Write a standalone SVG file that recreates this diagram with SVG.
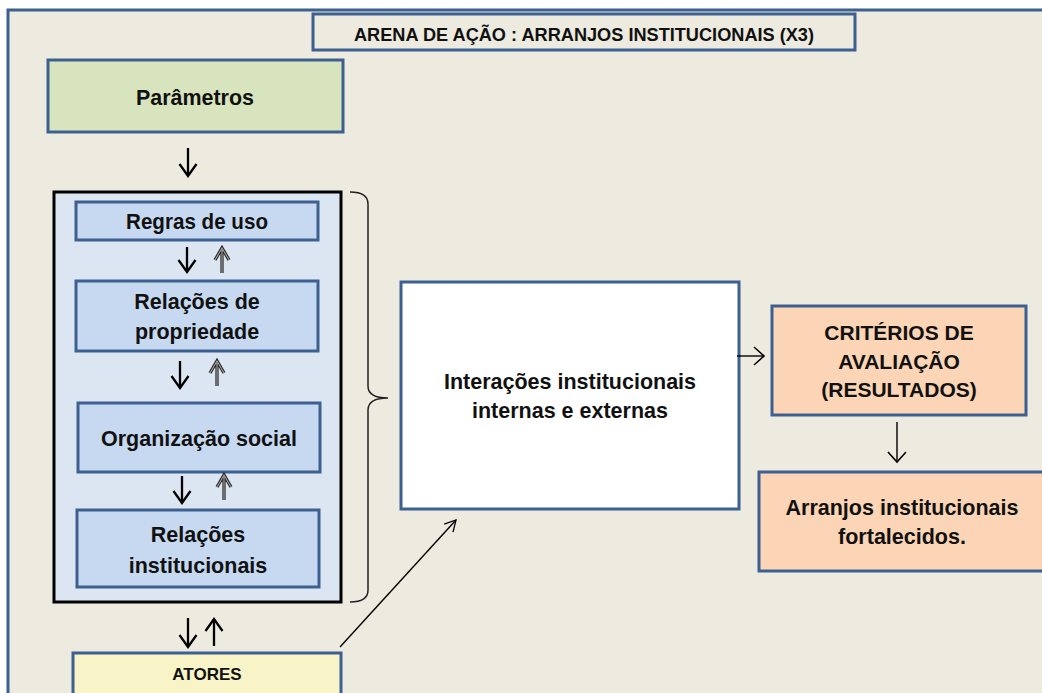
<svg xmlns="http://www.w3.org/2000/svg" width="1042" height="693" viewBox="0 0 1042 693">
<defs>
<style>
.t{font-family:"Liberation Sans",Arial,sans-serif;font-weight:bold;fill:#111;text-anchor:middle}
.bx{stroke:#3C6090;stroke-width:3}
.ln2{stroke:#000;stroke-width:2.3;fill:none}
.ln1{stroke:#000;stroke-width:1.4;fill:none}
.dbo{stroke:#222;stroke-width:3.2;fill:none;stroke-linejoin:miter}
.dbi{stroke:#aaa;stroke-width:1.1;fill:none}
</style>
<marker id="m2" markerUnits="userSpaceOnUse" viewBox="-14 -10 16 20" refX="0" refY="0" markerWidth="16" markerHeight="20" orient="auto" overflow="visible">
<path d="M-12,-8.5 L0,0 L-12,8.5" fill="none" stroke="#000" stroke-width="2.3"/>
</marker>
<marker id="m1" markerUnits="userSpaceOnUse" viewBox="-14 -10 16 20" refX="0" refY="0" markerWidth="16" markerHeight="20" orient="auto" overflow="visible">
<path d="M-10,-9 L0,0 L-10,9" fill="none" stroke="#000" stroke-width="1.6"/>
</marker>
<marker id="m0" markerUnits="userSpaceOnUse" viewBox="-14 -10 16 20" refX="0" refY="0" markerWidth="16" markerHeight="20" orient="auto" overflow="visible">
<path d="M-11,-6 L0,0 L-11,6" fill="none" stroke="#000" stroke-width="1.3"/>
</marker>
</defs>
<rect x="0" y="0" width="1042" height="693" fill="#fff"/>
<rect id="frame" x="8" y="10" width="1045" height="695" fill="#EDEAE0" stroke="#3C6090" stroke-width="3"/>

<g id="title">
<rect class="bx" x="313" y="14" width="542" height="36" fill="#EDEAE0"/>
<text class="t" x="584" y="41" font-size="18" textLength="460" lengthAdjust="spacingAndGlyphs">ARENA DE AÇÃO : ARRANJOS INSTITUCIONAIS (X3)</text>
</g>

<g id="parametros">
<rect class="bx" x="48" y="60" width="295" height="72" fill="#D7E4BD"/>
<text class="t" x="195" y="105" font-size="22" textLength="118" lengthAdjust="spacingAndGlyphs">Parâmetros</text>
</g>

<g id="container">
<rect x="54" y="192" width="287" height="410" fill="#DCE6F2" stroke="#000" stroke-width="3"/>
</g>

<g id="regras">
<rect class="bx" x="76" y="202" width="242" height="38" fill="#C6D9F1"/>
<text class="t" x="197" y="229" font-size="21.5" textLength="142" lengthAdjust="spacingAndGlyphs">Regras de uso</text>
</g>

<g id="propriedade">
<rect class="bx" x="76" y="281" width="242" height="70" fill="#C6D9F1"/>
<text class="t" x="197" y="309" font-size="21.5">Relações de</text>
<text class="t" x="197" y="339" font-size="21.5">propriedade</text>
</g>

<g id="organizacao">
<rect class="bx" x="78" y="403" width="242" height="69" fill="#C6D9F1"/>
<text class="t" x="199" y="446" font-size="21.5">Organização social</text>
</g>

<g id="relinst">
<rect class="bx" x="77" y="510" width="242" height="77" fill="#C6D9F1"/>
<text class="t" x="198" y="542" font-size="21.5">Relações</text>
<text class="t" x="198" y="573" font-size="21.5">institucionais</text>
</g>

<g id="atores">
<rect class="bx" x="73" y="653" width="268" height="45" fill="#F8F4C8"/>
<text class="t" x="207" y="680" font-size="17">ATORES</text>
</g>

<g id="interacoes">
<rect class="bx" x="401" y="282" width="338" height="227" fill="#FFFFFF"/>
<text class="t" x="570" y="389" font-size="21.5">Interações institucionais</text>
<text class="t" x="570" y="418" font-size="21.5">internas e externas</text>
</g>

<g id="criterios">
<rect class="bx" x="772" y="306" width="254" height="109" fill="#FBD5B5"/>
<text class="t" x="899" y="340" font-size="21">CRITÉRIOS DE</text>
<text class="t" x="899" y="369" font-size="21">AVALIAÇÃO</text>
<text class="t" x="899" y="397" font-size="21">(RESULTADOS)</text>
</g>

<g id="arranjos">
<rect class="bx" x="759" y="472" width="290" height="99" fill="#FBD5B5"/>
<text class="t" x="902" y="515" font-size="21.5">Arranjos institucionais</text>
<text class="t" x="902" y="544" font-size="21.5">fortalecidos.</text>
</g>

<g id="connectors">
<path d="M350,192 Q368,192 368,204 L368,386 Q368,398 388,398 Q368,398 368,410 L368,590 Q368,602 350,602" fill="none" stroke="#222" stroke-width="1.5"/>
<line class="ln2" x1="188" y1="148" x2="188" y2="176" marker-end="url(#m2)"/>
<line class="ln2" x1="187" y1="247" x2="187" y2="272" marker-end="url(#m2)"/>
<path class="dbo" d="M222,273 L222,249 M215,260 L222,248 L229,260"/>
<path class="dbi" d="M222,273 L222,250 M215,260 L222,248 L229,260"/>
<line class="ln2" x1="180" y1="361" x2="180" y2="388" marker-end="url(#m2)"/>
<path class="dbo" d="M217,386 L217,362 M210,373 L217,361 L224,373"/>
<path class="dbi" d="M217,386 L217,363 M210,373 L217,361 L224,373"/>
<line class="ln2" x1="182" y1="476" x2="182" y2="503" marker-end="url(#m2)"/>
<path class="dbo" d="M224,500 L224,476 M217,487 L224,475 L231,487"/>
<path class="dbi" d="M224,500 L224,477 M217,487 L224,475 L231,487"/>
<line class="ln2" x1="188" y1="618" x2="188" y2="647" marker-end="url(#m2)"/>
<line class="ln2" x1="214" y1="646" x2="214" y2="619" marker-end="url(#m2)"/>
<line class="ln1" x1="340" y1="647" x2="456" y2="520" marker-end="url(#m0)"/>
<line class="ln1" x1="737" y1="356" x2="764" y2="356" marker-end="url(#m1)"/>
<line class="ln1" x1="897" y1="422" x2="897" y2="462" marker-end="url(#m1)"/>
</g>
</svg>
